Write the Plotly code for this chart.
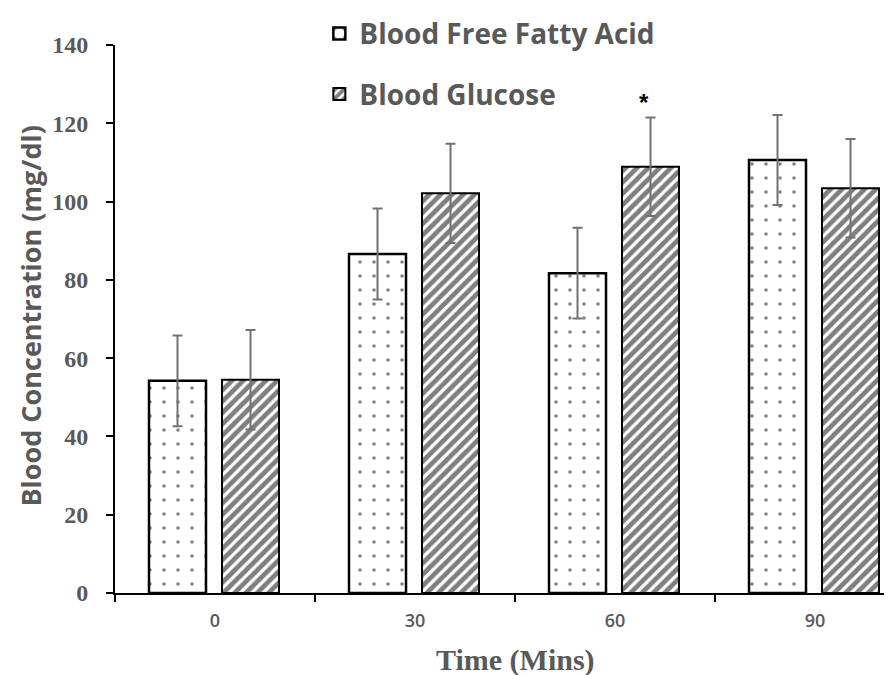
import plotly.graph_objects as go

categories = ["0", "30", "60", "90"]
ffa_values = [54.2, 86.6, 81.7, 110.6]
ffa_errors = [11.6, 11.6, 11.6, 11.5]
glucose_values = [54.5, 102.1, 108.9, 103.4]
glucose_errors = [12.7, 12.7, 12.6, 12.6]
series_names = ["Blood Free Fatty Acid", "Blood Glucose"]

GRAY = "#595959"
SERIF = "Liberation Serif, Times New Roman, serif"
SANS = "Open Sans, Noto Sans, sans-serif"

fig = go.Figure()
fig.add_trace(go.Bar(
    x=categories, y=ffa_values, name=series_names[0],
    width=0.285, offset=-0.33,
    marker=dict(color="white", line=dict(color="black", width=2.5),
                pattern=dict(shape=".", fgcolor="black", bgcolor="white", size=14, solidity=0.05)),
    error_y=dict(type="data", array=ffa_errors, visible=True, color="#727272", thickness=2, width=5),
    legendgroup="a",
))
fig.add_trace(go.Bar(
    x=categories, y=glucose_values, name=series_names[1],
    width=0.285, offset=0.035,
    marker=dict(color="white", line=dict(color="black", width=2),
                pattern=dict(shape="/", fgcolor="black", bgcolor="white", size=8, solidity=0.6)),
    error_y=dict(type="data", array=glucose_errors, visible=True, color="#727272", thickness=2, width=5),
    legendgroup="b",
))

fig.update_layout(
    width=884, height=667,
    margin=dict(l=107, r=0, t=37, b=82),
    plot_bgcolor="white", paper_bgcolor="white",
    showlegend=True,
    barmode="overlay",
    legend=dict(x=0.263, y=1.066, xanchor="left", yanchor="top",
                font=dict(family=SANS, size=28, color=GRAY, weight="bold"),
                traceorder="grouped", tracegroupgap=21, bgcolor="rgba(0,0,0,0)"),
    xaxis=dict(type="category", categoryorder="array", categoryarray=categories,
               range=[-0.5, 3.385], tickson="boundaries",
               showline=True, linecolor="black", linewidth=2,
               ticks="outside", ticklen=7, tickwidth=2, tickcolor="black",
               ticklabelstandoff=10,
               tickfont=dict(family=SANS, size=18, color=GRAY, weight=600),
               showgrid=False, zeroline=False),
    yaxis=dict(range=[0, 140], dtick=20,
               showline=True, linecolor="black", linewidth=2,
               ticks="outside", ticklen=7, tickwidth=2, tickcolor="black",
               ticklabelstandoff=13,
               tickfont=dict(family=SERIF, size=24, color=GRAY, weight="bold"),
               showgrid=False, zeroline=False),
    annotations=[
        dict(text="Time (Mins)", xref="paper", yref="paper", x=0.515, y=-0.122,
             xanchor="center", yanchor="middle", showarrow=False,
             font=dict(family=SERIF, size=30, color=GRAY, weight="bold")),
        dict(text="Blood Concentration (mg/dl)", xref="paper", yref="paper",
             x=-0.109, y=0.505, xanchor="center", yanchor="middle", textangle=-90,
             showarrow=False, font=dict(family=SANS, size=27, color=GRAY, weight="bold")),
        dict(text="*", xref="x", yref="y", x=2, y=125.3, xshift=29,
             xanchor="center", yanchor="middle", showarrow=False,
             font=dict(family="Liberation Sans, Arial, sans-serif", size=24, color="black", weight="bold")),
    ],
)

fig.write_html("out.html")
